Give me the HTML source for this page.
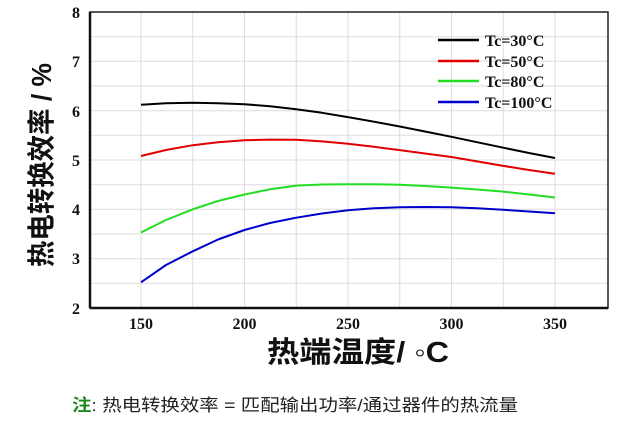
<!DOCTYPE html>
<html><head><meta charset="utf-8"><style>
body{margin:0;background:#fff;}
svg{display:block}
</style></head><body>
<svg width="643" height="423" xmlns="http://www.w3.org/2000/svg">
<rect width="643" height="423" fill="#fff"/>
<g stroke="#ddd" stroke-width="1">
<line x1="141" y1="12" x2="141" y2="308"/><line x1="192.75" y1="12" x2="192.75" y2="308"/><line x1="244.5" y1="12" x2="244.5" y2="308"/><line x1="296.25" y1="12" x2="296.25" y2="308"/><line x1="348" y1="12" x2="348" y2="308"/><line x1="399.75" y1="12" x2="399.75" y2="308"/><line x1="451.5" y1="12" x2="451.5" y2="308"/><line x1="503.25" y1="12" x2="503.25" y2="308"/><line x1="555" y1="12" x2="555" y2="308"/>
<line x1="90" y1="36.7" x2="608" y2="36.7"/><line x1="90" y1="61.3" x2="608" y2="61.3"/><line x1="90" y1="86" x2="608" y2="86"/><line x1="90" y1="110.7" x2="608" y2="110.7"/><line x1="90" y1="135.3" x2="608" y2="135.3"/><line x1="90" y1="160" x2="608" y2="160"/><line x1="90" y1="184.7" x2="608" y2="184.7"/><line x1="90" y1="209.3" x2="608" y2="209.3"/><line x1="90" y1="234" x2="608" y2="234"/><line x1="90" y1="258.7" x2="608" y2="258.7"/><line x1="90" y1="283.3" x2="608" y2="283.3"/>
</g>
<rect x="90" y="12" width="518" height="296" fill="none" stroke="#222" stroke-width="1.5"/>
<line x1="90" y1="308" x2="608" y2="308" stroke="#111" stroke-width="2.5"/>
<line x1="90" y1="12" x2="90" y2="308" stroke="#111" stroke-width="2.5"/>
<g fill="none" stroke-width="2" stroke-linejoin="round">
<polyline stroke="#000" points="141,104.7 166,103.3 192.75,102.8 218,103.2 244.5,104.2 270,106.3 296.25,109.2 322,112.8 348,117.1 374,121.7 399.75,126.5 425,131.5 451.5,136.8 477,142.2 503.25,147.7 529,153 555,158"/>
<polyline stroke="#e00000" points="141,156 166,150 192.75,145.2 218,142.2 244.5,140.3 270,139.6 296.25,139.8 322,141.4 348,143.7 374,146.8 399.75,150.1 425,153.5 451.5,157 477,161.4 503.25,165.9 529,170 555,173.8"/>
<polyline stroke="#22dd22" points="141,232.5 166,220 192.75,209.3 218,201 244.5,194.5 270,189.3 296.25,185.6 322,184.5 348,184.2 374,184.3 399.75,184.7 425,186 451.5,187.6 477,189.5 503.25,191.6 529,194.5 555,197.5"/>
<polyline stroke="#0000cc" points="141,282.3 166,265 192.75,251.3 218,239.5 244.5,230 270,223 296.25,217.7 322,213.5 348,210.3 374,208.3 399.75,207.3 425,207 451.5,207.3 477,208.3 503.25,209.8 529,211.5 555,213.3"/>
</g>
<g stroke-width="2.5">
<line x1="438" y1="40" x2="479" y2="40" stroke="#000"/>
<line x1="438" y1="61" x2="479" y2="61" stroke="#e00000"/>
<line x1="438" y1="81" x2="479" y2="81" stroke="#22dd22"/>
<line x1="438" y1="102" x2="479" y2="102" stroke="#0000cc"/>
</g>
<g font-family="Liberation Serif, serif" font-weight="bold" font-size="16" fill="#111">
<text x="485" y="46">Tc=30°C</text>
<text x="485" y="67">Tc=50°C</text>
<text x="485" y="87">Tc=80°C</text>
<text x="485" y="108">Tc=100°C</text>
</g>
<g font-family="Liberation Serif, serif" font-weight="bold" font-size="16" fill="#111" text-anchor="end">
<text x="80" y="18">8</text><text x="80" y="67">7</text><text x="80" y="117">6</text><text x="80" y="166">5</text><text x="80" y="215">4</text><text x="80" y="264">3</text><text x="80" y="314">2</text>
</g>
<g font-family="Liberation Serif, serif" font-weight="bold" font-size="16" fill="#111" text-anchor="middle">
<text x="141" y="329">150</text><text x="244.5" y="329">200</text><text x="348" y="329">250</text><text x="451.5" y="329">300</text><text x="555" y="329">350</text>
</g>
<text transform="translate(51,267) rotate(-90)" font-family="Liberation Sans, 'Noto Sans CJK SC', sans-serif" font-weight="bold" font-size="28" fill="#111" textLength="204" lengthAdjust="spacingAndGlyphs">热电转换效率 / %</text>
<text x="267" y="362" font-family="Liberation Sans, 'Noto Sans CJK SC', sans-serif" font-weight="bold" font-size="29" fill="#111" textLength="182" lengthAdjust="spacingAndGlyphs">热端温度/ ◦C</text>
<text x="72" y="411" font-family="Liberation Sans, 'Noto Sans CJK SC', sans-serif" font-size="17" fill="#222" textLength="446" lengthAdjust="spacingAndGlyphs"><tspan fill="#1a8a1a" font-weight="bold">注</tspan>: 热电转换效率 = 匹配输出功率/通过器件的热流量</text>
</svg>
</body></html>
